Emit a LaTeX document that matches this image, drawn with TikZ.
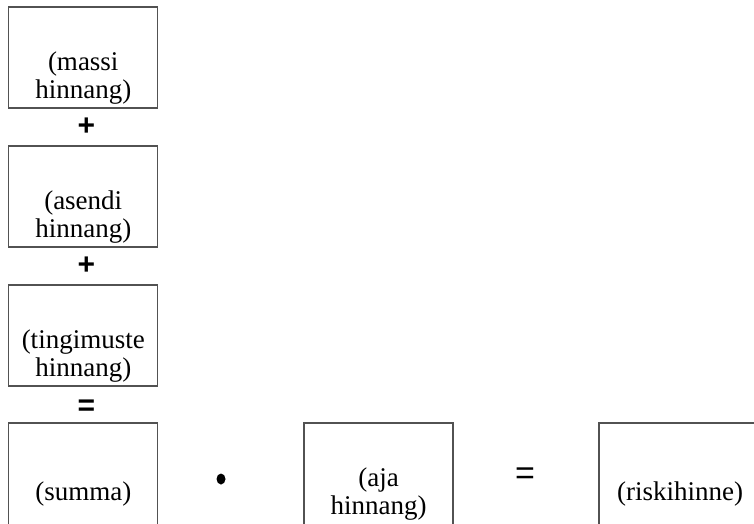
\documentclass[tikz,border=0pt]{standalone}
\usepackage{fontspec}
\setmainfont{Liberation Serif}
\newfontfamily\opfont{Liberation Sans}
\usepackage{tikz}
\usetikzlibrary{shapes.geometric}

\begin{document}
\begin{tikzpicture}[x=1pt,y=1pt,
  box/.style={rectangle,draw=black!68,line width=1.3pt,minimum width=149pt,minimum height=101pt,inner sep=0pt},
  txt/.style={align=center,inner sep=0pt,font=\fontsize{27}{28}\selectfont},
  op/.style={inner sep=0pt,font=\opfont\bfseries\fontsize{30}{30}\selectfont}]
 \clip (0,0) rectangle (754,523);

 \node at (83.25,465.5) [box] (1) {};
 \node at (83.25,326.5) [box] (2) {};
 \node at (83.25,187.5) [box] (3) {};
 % bottom row runs off the page
 \node at (83.25,46.5) [box,minimum height=107pt] (4) {};
 \node at (378.5,46.5) [box,minimum height=107pt] (5) {};
 \node at (684,46.5) [box,minimum height=107pt,minimum width=170pt] (6) {};

 \node at (83.25,445) [txt] (t1) {(massi\\hinnang)};
 \node at (83.25,306) [txt] (t2) {(asendi\\hinnang)};
 \node at (83.25,167) [txt] (t3) {(tingimuste\\hinnang)};
 \node at (83.25,29) [txt] (t4) {(summa)};
 \node at (378.5,29) [txt] (t5) {(aja\\hinnang)};
 \node at (680,29) [txt] (t6) {(riskihinne)};

 \node at (86.5,396.5) [op] (p1) {+};
 \node at (86.5,257) [op] (p2) {+};
 \node at (86.5,115.5) [op] (e1) {=};
 \node at (221,44) [ellipse,fill=black,inner sep=0pt,minimum width=9pt,minimum height=11pt] (m1) {};
 \node at (525,46.5) [inner sep=0pt,font=\opfont\fontsize{34}{34}\selectfont] (e2) {=};
\end{tikzpicture}
\end{document}
